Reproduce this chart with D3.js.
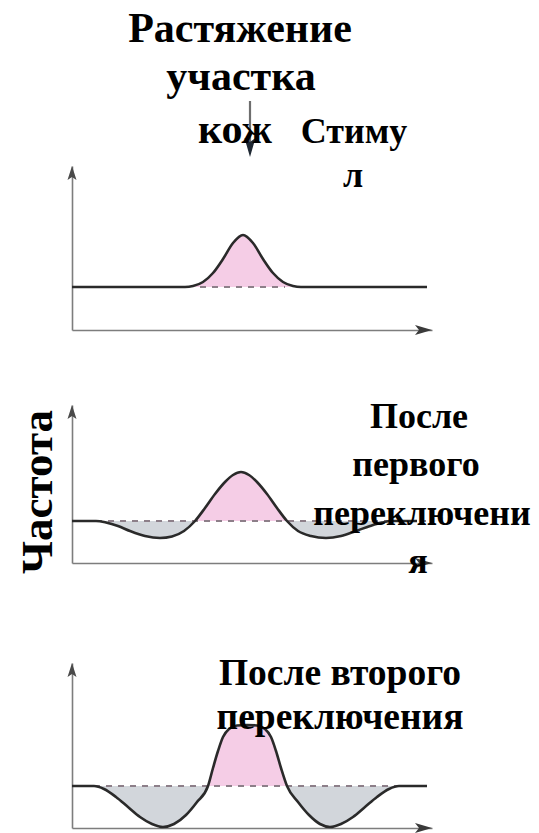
<!DOCTYPE html>
<html><head><meta charset="utf-8">
<script src="https://cdn.jsdelivr.net/npm/d3@7"></script>
<style>html,body{margin:0;padding:0;background:#fff;overflow:hidden}</style>
</head><body>
<svg id="c" width="539" height="833"></svg>
<script>
// ---- text ----
const titleLines = ["Растяжение", "участка", "кож"];
const stimulusLines = ["Стиму", "л"];
const yAxisLabel = "Частота";
const panel2Lines = ["После", "первого", "переключени", "я"];
const panel3Lines = ["После второго", "переключения"];

// ---- data: position along the skin (arbitrary units) vs. firing frequency ----
const p1Pos  = [0, 113, 121, 131, 141, 151, 161, 171, 181, 191, 201, 211, 221, 229, 355];
const p1Freq = [43, 43, 44, 48, 57, 71, 87, 95, 87, 71, 57, 48, 44, 43, 43];

const p2Pos  = [0, 24, 34, 46, 58, 73, 88, 100, 112, 123, 133, 143, 153, 161, 169, 177, 185, 195, 205, 215, 226, 239, 254, 269, 284, 298, 310, 319, 345];
const p2Freq = [42, 42, 40.5, 37, 32, 27, 25, 26.5, 32, 42, 55, 69, 81, 88, 91, 88, 81, 69, 55, 42, 32, 27, 25, 27, 32, 37, 40.5, 42, 42];

const p3Pos  = [0, 22, 32, 44, 56, 68, 80, 91, 102, 114, 125, 136, 141, 146, 151, 157, 165, 175, 185, 193, 199, 204, 209, 215, 226, 237, 248, 258, 269, 281, 293, 305, 317, 327, 355];
const p3Freq = [42, 42, 39, 31, 21, 11, 4, 1, 4, 13, 26, 42, 60, 77, 91, 99, 102.5, 103, 102.5, 99, 91, 77, 60, 42, 26, 13, 4, 1, 4, 11, 21, 31, 39, 42, 42];

const baselineFreq = [43, 42, 42];
const dashStart = [128, 24, 22];
const dashEnd = [213, 355, 355];
const axisMax = [164, 158, 165];

// ---- layout ----
const svg = d3.select("#c");
const FONT = "'Liberation Serif','Times New Roman',serif";
const x = d3.scaleLinear().domain([0, 360]).range([72, 432]);
const axisY = [330, 563, 828];

const panels = [
  {pos: p1Pos, freq: p1Freq},
  {pos: p2Pos, freq: p2Freq},
  {pos: p3Pos, freq: p3Freq}
];

const defs = svg.append("defs");

panels.forEach((p, i) => {
  const y = d3.scaleLinear().domain([0, axisMax[i]]).range([axisY[i], axisY[i] - axisMax[i]]);
  const g = svg.append("g");
  const data = p.pos.map((v, k) => ({p: v, f: p.freq[k]}));
  const by = y(baselineFreq[i]);

  // axes (no ticks)
  const gx = g.append("g").attr("transform", `translate(0,${axisY[i]})`)
    .call(d3.axisBottom(x).tickValues([]).tickSizeOuter(0));
  gx.select(".domain").attr("stroke", "#7d7d7d").attr("stroke-width", 1.6);
  const gy = g.append("g").attr("transform", `translate(${x(0)},0)`)
    .call(d3.axisLeft(y).tickValues([]).tickSizeOuter(0));
  gy.select(".domain").attr("stroke", "#7d7d7d").attr("stroke-width", 1.6);

  // arrowheads
  const xe = x(360), ye = axisY[i];
  g.append("path").attr("d", `M${xe},${ye} L${xe-17},${ye-5} L${xe-13},${ye} L${xe-17},${ye+5} Z`).attr("fill", "#3a3a3a");
  const xt = x(0), yt = y(axisMax[i]);
  g.append("path").attr("d", `M${xt},${yt} L${xt-4.5},${yt+14} L${xt},${yt+11} L${xt+4.5},${yt+14} Z`).attr("fill", "#4a4a4a");

  // clip regions
  defs.append("clipPath").attr("id", "above" + i).append("rect")
    .attr("x", 0).attr("y", 0).attr("width", 539).attr("height", by);
  defs.append("clipPath").attr("id", "below" + i).append("rect")
    .attr("x", 0).attr("y", by).attr("width", 539).attr("height", 833 - by);

  const area = d3.area().x(d => x(d.p)).y0(by).y1(d => y(d.f)).curve(d3.curveMonotoneX);
  g.append("path").attr("d", area(data)).attr("fill", "#f5cde6").attr("clip-path", `url(#above${i})`);
  g.append("path").attr("d", area(data)).attr("fill", "#d2d6db").attr("clip-path", `url(#below${i})`);

  // dashed baseline
  g.append("line").attr("x1", x(dashStart[i])).attr("x2", x(dashEnd[i]))
    .attr("y1", by).attr("y2", by)
    .attr("stroke", "#8d7f89").attr("stroke-width", 2).attr("stroke-dasharray", "6,6");

  // curve
  const line = d3.line().x(d => x(d.p)).y(d => y(d.f)).curve(d3.curveMonotoneX);
  g.append("path").attr("d", line(data)).attr("fill", "none")
    .attr("stroke", "#2a2a2a").attr("stroke-width", 2.6).attr("stroke-linejoin", "round");
});

// stimulus arrow
svg.append("line").attr("x1", 250).attr("x2", 250).attr("y1", 101).attr("y2", 142)
  .attr("stroke", "#6e6e6e").attr("stroke-width", 2.2);
svg.append("path").attr("d", "M250,157 L244.5,138 L250,142 L255.5,138 Z").attr("fill", "#1f2833");

function textBlock(lines, cx, baselines, size) {
  lines.forEach((t, k) => {
    svg.append("text").attr("x", cx[k]).attr("y", baselines[k])
      .attr("text-anchor", "middle").attr("font-family", FONT)
      .attr("font-weight", "bold").attr("font-size", size).attr("fill", "#000").text(t);
  });
}

textBlock(titleLines, [240, 241, 235], [42, 90, 143], 42);
textBlock(stimulusLines, [354, 353], [143, 187], 36);
textBlock(panel2Lines, [419, 416, 422, 418], [428, 476, 525, 573], 36);
textBlock(panel3Lines, [340, 340], [685, 729], 37.5);

svg.append("text").attr("transform", "translate(52,492) rotate(-90)")
  .attr("text-anchor", "middle").attr("font-family", FONT)
  .attr("font-weight", "bold").attr("font-size", 45).attr("fill", "#000").text(yAxisLabel);
</script>
</body></html>
